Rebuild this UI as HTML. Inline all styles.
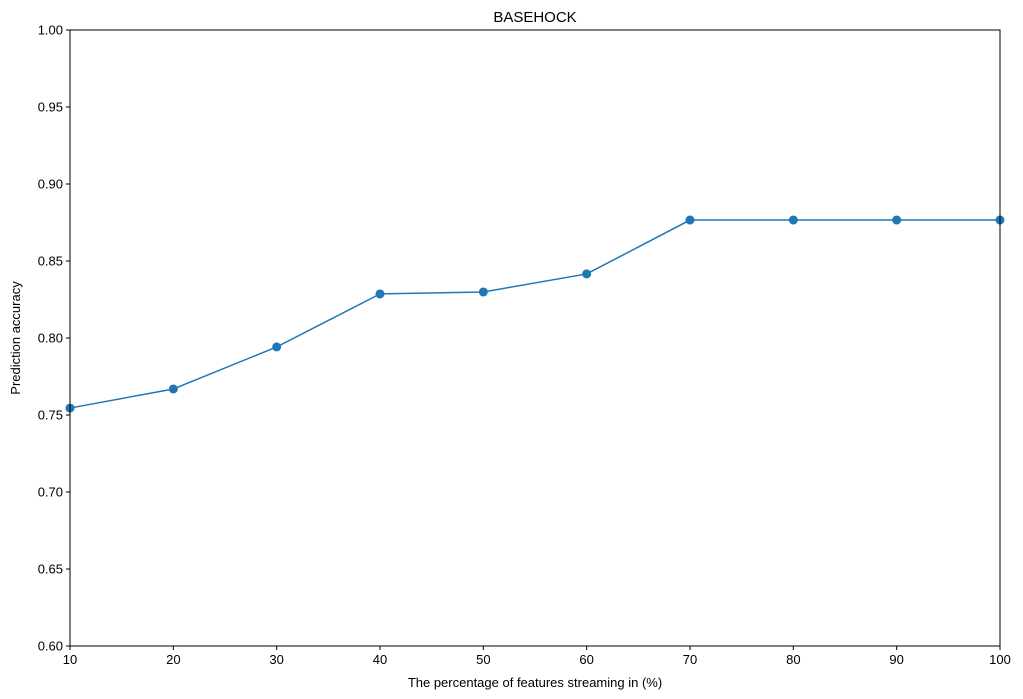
<!DOCTYPE html>
<html><head><meta charset="utf-8"><style>
html,body{margin:0;padding:0;background:#fff;}
svg{display:block;font-family:"Liberation Sans","DejaVu Sans",sans-serif;}
</style></head><body>
<svg id="chart" width="1023" height="699">
<text x="535" y="22" font-size="15" text-anchor="middle">BASEHOCK</text>
<text x="535" y="687" font-size="13" text-anchor="middle">The percentage of features streaming in (%)</text>
<text transform="translate(20,338) rotate(-90)" font-size="13" text-anchor="middle">Prediction accuracy</text>
<g id="ticks"></g>
<g id="series"></g>
<rect x="70" y="30" width="930" height="616" fill="none" stroke="#000" stroke-width="1"/>
</svg>
<script>
const categories=[10,20,30,40,50,60,70,80,90,100];
const accuracy=[0.7545,0.7669,0.7942,0.8286,0.8299,0.8416,0.8766,0.8766,0.8766,0.8766];
const xTicks=[10,20,30,40,50,60,70,80,90,100];
const yTicks=[0.60,0.65,0.70,0.75,0.80,0.85,0.90,0.95,1.00];
const X0=70,X1=1000,Y0=646,Y1=30;
const xs=v=>X0+(v-10)/90*(X1-X0);
const ys=v=>Y0-(v-0.6)/0.4*(Y0-Y1);
const NS="http://www.w3.org/2000/svg";
const tg=document.getElementById('ticks'),sg=document.getElementById('series');
function mk(t,a,p){const e=document.createElementNS(NS,t);for(const k in a)e.setAttribute(k,a[k]);p.appendChild(e);return e;}
xTicks.forEach(v=>{
 const l=mk('line',{x1:xs(v),x2:xs(v),y1:Y0,y2:Y0+4,stroke:'#000'},tg);
 
 
 const t=mk('text',{x:xs(v),y:Y0+18,'font-size':13,'text-anchor':'middle'},tg);t.textContent=v;
 
 
});
yTicks.forEach(v=>{
 const l=mk('line',{x1:X0-4,x2:X0,y1:ys(v),y2:ys(v),stroke:'#000'},tg);
 
 
 const t=mk('text',{x:X0-7,y:ys(v)+4.5,'font-size':13,'text-anchor':'end'},tg);t.textContent=v.toFixed(2);
 
 
});
const pts=categories.map((c,i)=>xs(c)+','+ys(accuracy[i])).join(' ');
const pl=mk('polyline',{points:pts,fill:'none',stroke:'#1f77b4','stroke-width':1.5},sg);


categories.forEach((c,i)=>{
 const m=mk('circle',{cx:xs(c),cy:ys(accuracy[i]),r:4.5,fill:'#1f77b4'},sg);
 
 
});
</script>
</body></html>
